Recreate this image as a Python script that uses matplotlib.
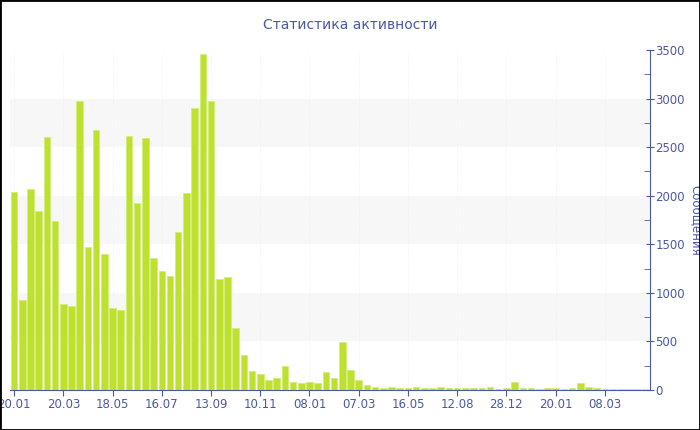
import numpy as np
import matplotlib
matplotlib.use("Agg")
import matplotlib.pyplot as plt
from matplotlib.ticker import MultipleLocator

# сообщения по периодам
values = [2040, 926, 2068, 1842, 2600, 1742, 882, 868, 2970, 1468,
          2679, 1396, 844, 820, 2614, 1921, 2590, 1355, 1228, 1173,
          1626, 2024, 2898, 3461, 2974, 1139, 1160, 638, 358, 195,
          166, 108, 123, 244, 80, 70, 80, 77, 190, 127,
          492, 204, 106, 48, 31, 21, 31, 24, 21, 27,
          24, 24, 31, 17, 21, 24, 21, 17, 27, 10,
          17, 79, 17, 21, 10, 21, 21, 10, 21, 69,
          27, 17, 10, 10, 10, 14, 10, 10]
tick_labels = ["20.01", "20.03", "18.05", "16.07", "13.09", "10.11", "08.01",
               "07.03", "16.05", "12.08", "28.12", "20.01", "08.03"]
tick_step = 6

blue = "#4a5aa0"
green = "#bee02e"

fig = plt.figure(figsize=(7, 4.3), dpi=100)
ax = fig.add_axes([10/700, 40/430, 640/700, 340/430])

x = np.arange(len(values))
# чередующиеся полосы фона
for lo in range(500, 3500, 1000):
    ax.axhspan(lo, lo + 500, color="#f7f7f7", zorder=0, lw=0)
ax.bar(x, values, width=0.8, color=green, edgecolor="#d4ec7a", linewidth=0.6, zorder=2)

ax.set_xlim(-0.5, len(values) - 0.5)
ax.set_ylim(0, 3500)
ax.set_xticks(x[::tick_step])
ax.set_xticklabels(tick_labels)
ax.grid(axis="x", color="#eeeeee", lw=0.6, ls=":", zorder=1)

ax.yaxis.tick_right()
ax.yaxis.set_label_position("right")
ax.yaxis.set_major_locator(MultipleLocator(500))
ax.yaxis.set_minor_locator(MultipleLocator(250))
ax.tick_params(axis="y", which="major", direction="inout", length=6, color=blue,
               labelcolor=blue, labelsize=8.5, pad=1)
ax.tick_params(axis="y", which="minor", direction="in", length=4, color=blue)
ax.tick_params(axis="x", direction="out", length=4, color=blue, labelcolor=blue,
               labelsize=8.5, pad=2)

for s in ["top", "left"]:
    ax.spines[s].set_visible(False)
ax.spines["bottom"].set_color(blue)
ax.spines["right"].set_color(blue)

ax.set_ylabel("Сообщения", rotation=270, color=blue, fontsize=8.5, labelpad=12)
fig.text(0.5, 1 - 25/430, "Статистика активности", ha="center", va="center",
         color=blue, fontsize=10)

# рамка вокруг картинки
fig.patches.append(plt.Rectangle((0, 0), 1, 1, transform=fig.transFigure,
                                 fill=False, edgecolor="black", lw=2))

fig.savefig("out.png", dpi=100)
